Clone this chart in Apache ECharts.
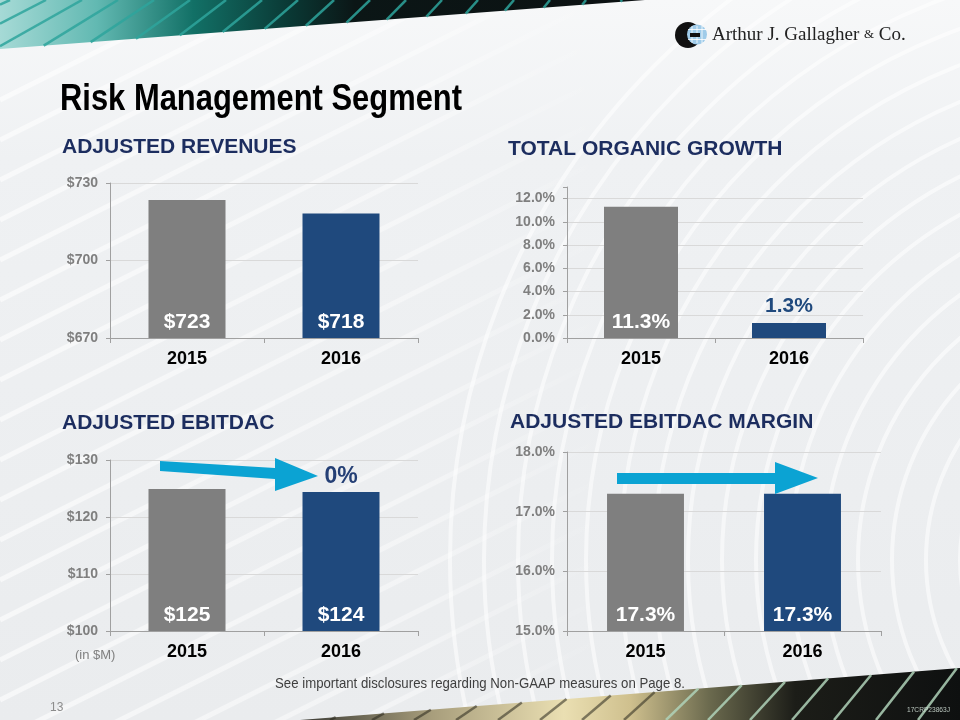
<!DOCTYPE html>
<html><head><meta charset="utf-8">
<script src="https://cdn.jsdelivr.net/npm/echarts/dist/echarts.min.js"></script>
<style>html,body{margin:0;padding:0;background:#eceef1}#c{width:960px;height:720px}</style>
</head><body><div id="c"></div>
<script>
// ---- data ----
const years = ['2015', '2016'];
const adjustedRevenues = [723.4, 718.2];
const organicGrowth = [11.3, 1.3];
const adjustedEbitdac = [124.9, 124.4];
const ebitdacMargin = [17.3, 17.3];
const ebitdacChange = ['', '0%'];
const revenueTicks = [670, 700, 730];
const growthTicks = [0, 2, 4, 6, 8, 10, 12];
const growthAxisTop = 13;
const ebitdacTicks = [100, 110, 120, 130];
const marginTicks = [15, 16, 17, 18];

// ---- styles ----
const GREY = '#7f7f7f', NAVY = '#1f497d', HEAD = '#1c2d5f', CYAN = '#0ba3d3';
const SANS = '"Liberation Sans", Arial, sans-serif';
const SERIF = '"Liberation Serif", "Times New Roman", serif';
const barColors = [GREY, NAVY];
const AXC = '#a0a0a0';

const measureCtx = document.createElement('canvas').getContext('2d');
function textWidth(t, font) { measureCtx.font = font; return measureCtx.measureText(t).width; }

const grids = [
  {left: 110, top: 183, width: 308, height: 155},
  {left: 567, top: 187, width: 296, height: 151},
  {left: 110, top: 460, width: 308, height: 171},
  {left: 567, top: 452, width: 314, height: 179}
];

function xAx(i) {
  return {type: 'category', gridIndex: i, data: years,
    axisLine: {lineStyle: {color: AXC}},
    axisTick: {show: true, length: 5, lineStyle: {color: AXC}},
    axisLabel: {color: '#000', fontSize: 18, fontWeight: 'bold', fontFamily: SANS, margin: 12}};
}
function yAx(i, ticks, fmt, top) {
  const hasTop = top !== undefined;
  return {type: 'value', gridIndex: i, min: ticks[0], max: hasTop ? top : ticks[ticks.length - 1],
    interval: ticks[1] - ticks[0],
    axisLine: {show: true, lineStyle: {color: AXC}},
    axisTick: {show: true, length: 4, lineStyle: {color: AXC}},
    splitLine: {show: true, showMaxLine: !hasTop, lineStyle: {color: '#d9d9d9'}},
    axisLabel: {color: GREY, fontSize: 14, fontWeight: 'bold', fontFamily: SANS, margin: 12,
      formatter: v => ticks.indexOf(v) >= 0 ? fmt(v) : ''}};
}
const valueLabel = {show: true, position: 'insideBottom', distance: 5, color: '#fff',
  fontSize: 21, fontWeight: 'bold', fontFamily: SANS};
function bars(values) {
  return values.map((v, i) => ({value: v, itemStyle: {color: barColors[i]}}));
}
const growthData = organicGrowth.map((v, i) => {
  const d = {value: v, itemStyle: {color: barColors[i]}};
  if (v < 3) d.label = {position: 'top', color: NAVY, distance: 6};
  return d;
});

// ---- decorative graphics ----
const g = [];
function grad(stops) {
  return {type: 'linear', x: 0, y: 0, x2: 1, y2: 0,
    colorStops: stops.map(s => ({offset: s[0], color: s[1]}))};
}
// background left diagonal stripes
for (let y0 = 100; y0 <= 1150; y0 += 40) {
  g.push({type: 'line', z: -5, silent: true,
    shape: {x1: 0, y1: y0, x2: 600, y2: y0 - 300},
    style: {stroke: grad([[0, 'rgba(255,255,255,0.6)'], [0.7, 'rgba(255,255,255,0.4)'], [1, 'rgba(255,255,255,0)']]), lineWidth: 5}});
}
// background right arcs
for (let r = 190; r <= 720; r += 34) {
  g.push({type: 'circle', z: -5, silent: true, shape: {cx: 1150, cy: 560, r: r},
    style: {fill: 'none', stroke: 'rgba(255,255,255,0.55)', lineWidth: 4}});
}
// top band
g.push({type: 'polygon', z: -4, silent: true, shape: {points: [[0, 0], [645, 0], [0, 49]]},
  style: {fill: grad([[0, '#a6dad6'], [0.15, '#62b9b2'], [0.3, '#127066'], [0.45, '#0a3834'], [0.55, '#0b1616'], [1, '#0c1112']])}});
(function () {
  const k = 49 / 645;
  for (let c = 10; c <= 645; c += 36) {
    const m = 0.45 + c / 645 * 0.9;
    let xe = (m * c - 49) / (m - k), ye;
    if (xe < 0) { xe = 0; ye = m * c; } else { ye = m * (c - xe); }
    g.push({type: 'line', z: -3, silent: true, shape: {x1: c, y1: 0, x2: xe, y2: ye},
      style: {stroke: '#2ea49c', lineWidth: 2.5, opacity: 0.85}});
  }
})();
// bottom band
g.push({type: 'polygon', z: -4, silent: true, shape: {points: [[300, 720], [960, 668], [960, 720]]},
  style: {fill: grad([[0, '#3a3a34'], [0.2, '#a89e7c'], [0.4, '#eadfb2'], [0.5, '#cfc08e'], [0.62, '#6b6a4e'], [0.75, '#1c1d18'], [1, '#0e1010']])}});
(function () {
  const k2 = 52 / 660;
  for (let xb = 330; xb <= 1010; xb += 42) {
    const m = 0.45 + (xb - 300) / 700 * 1.0;
    let x = (m * xb - 300 * k2) / (m - k2), y;
    if (x > 960) { x = 960; y = 720 - m * (960 - xb); } else { y = 720 - k2 * (x - 300); }
    if (xb > 960) continue;
    const col = xb < 650 ? 'rgba(40,38,28,0.55)' : 'rgba(175,210,185,0.85)';
    g.push({type: 'line', z: -3, silent: true, shape: {x1: xb, y1: 720, x2: x, y2: y},
      style: {stroke: col, lineWidth: 2.5}});
  }
})();
// logo
g.push({type: 'circle', z: 5, silent: true, shape: {cx: 688, cy: 35, r: 13}, style: {fill: '#111'}});
g.push({type: 'circle', z: 6, silent: true, shape: {cx: 697, cy: 34.5, r: 10}, style: {fill: '#9fcbe9'}});
[-5, 0, 5].forEach(d => g.push({type: 'line', z: 7, silent: true,
  shape: {x1: 697 + d, y1: 26, x2: 697 + d, y2: 43}, style: {stroke: 'rgba(255,255,255,0.8)', lineWidth: 1}}));
[-5, 5].forEach(d => g.push({type: 'line', z: 7, silent: true,
  shape: {x1: 688, y1: 34.5 + d, x2: 706, y2: 34.5 + d}, style: {stroke: 'rgba(255,255,255,0.8)', lineWidth: 1}}));
g.push({type: 'rect', z: 8, silent: true, shape: {x: 690, y: 33, width: 10, height: 4}, style: {fill: '#111'}});
g.push({type: 'text', z: 8, silent: true, x: 712, y: 35,
  style: {text: '{a|Arthur J. Gallagher }{b|&}{a| Co.}', verticalAlign: 'middle',
    rich: {a: {fontFamily: SERIF, fontSize: 19, fill: '#222', color: '#222'}, b: {fontFamily: SERIF, fontSize: 13, fill: '#222', color: '#222'}}}});
// titles / texts
function txt(t, x, y, font, color, align, fitWidth) {
  const el = {type: 'text', z: 8, silent: true, x: x, y: y,
    style: {text: t, font: font, fill: color, textAlign: align || 'left', textVerticalAlign: 'middle'}};
  if (fitWidth) el.scaleX = fitWidth / textWidth(t, font);
  g.push(el);
}
txt('Risk Management Segment', 60, 100, 'bold 36px ' + SANS, '#000', 'left', 402);
txt('ADJUSTED REVENUES', 62, 147, 'bold 21px ' + SANS, HEAD);
txt('TOTAL ORGANIC GROWTH', 508, 149, 'bold 21px ' + SANS, HEAD);
txt('ADJUSTED EBITDAC', 62, 423, 'bold 21px ' + SANS, HEAD);
txt('ADJUSTED EBITDAC MARGIN', 510, 422, 'bold 21px ' + SANS, HEAD);
txt('(in $M)', 75, 655, '13px ' + SANS, GREY);
txt('See important disclosures regarding Non-GAAP measures on Page 8.', 480, 684, '15px ' + SANS, '#3f3f3f', 'center', 410);
txt('13', 50, 708, '12px ' + SANS, '#8c8c8c');
txt('17CRP23863J', 907, 710, '8px ' + SANS, 'rgba(210,225,215,0.85)', 'left', 43);
// arrows
g.push({type: 'polygon', z: 10, silent: true,
  shape: {points: [[160, 461], [275, 468], [275, 458], [318, 476], [275, 491], [275, 479], [160, 471]]},
  style: {fill: CYAN}});
g.push({type: 'polygon', z: 10, silent: true,
  shape: {points: [[617, 473], [775, 473], [775, 462], [818, 478], [775, 494], [775, 484], [617, 484]]},
  style: {fill: CYAN}});

const option = {
  backgroundColor: {type: 'linear', x: 0, y: 0, x2: 0, y2: 1,
    colorStops: [{offset: 0, color: '#f7f8f9'}, {offset: 0.22, color: '#eff1f3'}, {offset: 1, color: '#eaecee'}]},
  animation: false,
  grid: grids,
  xAxis: [xAx(0), xAx(1), xAx(2), xAx(3)],
  yAxis: [
    yAx(0, revenueTicks, v => '$' + v),
    yAx(1, growthTicks, v => v.toFixed(1) + '%', growthAxisTop),
    yAx(2, ebitdacTicks, v => '$' + v),
    yAx(3, marginTicks, v => v.toFixed(1) + '%')
  ],
  series: [
    {type: 'bar', xAxisIndex: 0, yAxisIndex: 0, barWidth: '50%', data: bars(adjustedRevenues),
      label: Object.assign({}, valueLabel, {formatter: p => '$' + Math.round(p.value)})},
    {type: 'bar', xAxisIndex: 1, yAxisIndex: 1, barWidth: '50%', data: growthData,
      label: Object.assign({}, valueLabel, {formatter: p => p.value.toFixed(1) + '%'})},
    {type: 'bar', xAxisIndex: 2, yAxisIndex: 2, barWidth: '50%', barGap: '-100%', data: bars(adjustedEbitdac),
      label: Object.assign({}, valueLabel, {formatter: p => '$' + Math.round(p.value)})},
    {type: 'bar', xAxisIndex: 2, yAxisIndex: 2, barWidth: '50%', barGap: '-100%', silent: true,
      data: adjustedEbitdac.slice(), itemStyle: {color: 'rgba(0,0,0,0)'},
      label: {show: true, position: 'top', distance: 4, color: '#243f75', fontSize: 23, fontWeight: 'bold',
        fontFamily: SANS, formatter: p => ebitdacChange[p.dataIndex]}},
    {type: 'bar', xAxisIndex: 3, yAxisIndex: 3, barWidth: '49%', data: bars(ebitdacMargin),
      label: Object.assign({}, valueLabel, {formatter: p => p.value.toFixed(1) + '%'})}
  ],
  graphic: {elements: g}
};
const chart = echarts.init(document.getElementById('c'));
chart.setOption(option);
</script></body></html>
